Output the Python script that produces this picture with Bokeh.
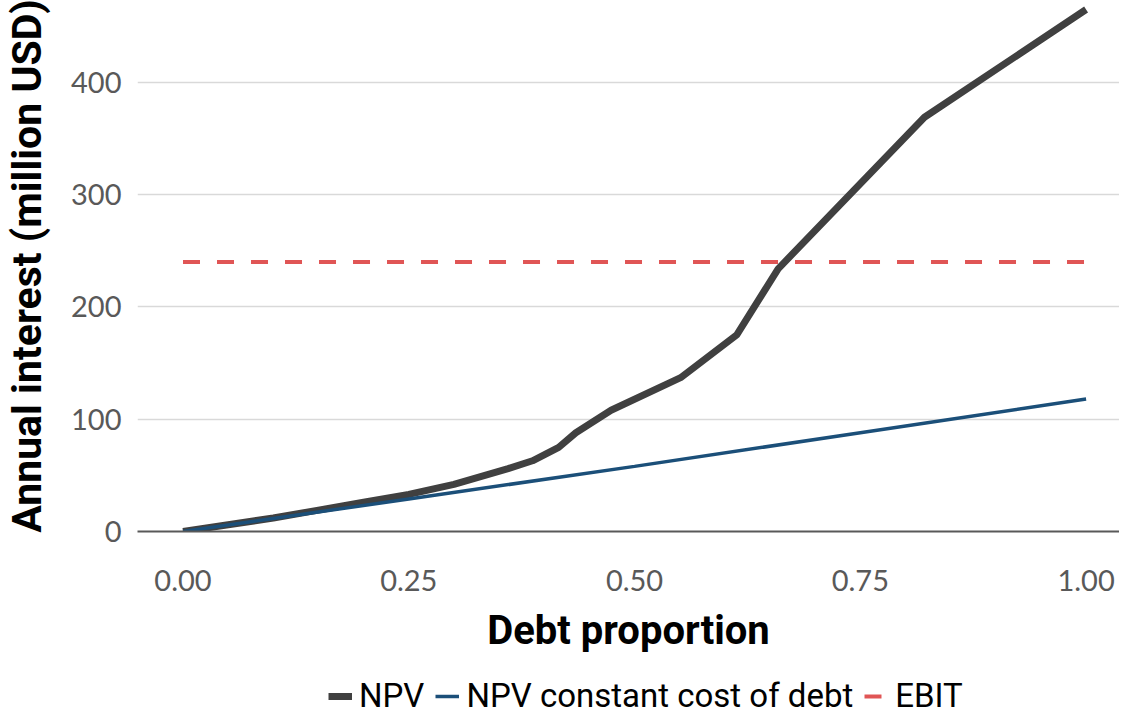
from bokeh.plotting import figure
from bokeh.layouts import column
from bokeh.models import Range1d, FixedTicker, NumeralTickFormatter, Legend, LegendItem
from bokeh.embed import file_html
from bokeh.resources import INLINE

# Data
npv_x = [0.0, 0.05, 0.10, 0.15, 0.20, 0.25, 0.30, 0.36, 0.387, 0.416, 0.435, 0.474, 0.551, 0.613, 0.659, 0.821, 1.0]
npv_y = [0, 6, 12, 19, 26, 33, 42, 56, 63, 75, 88, 108, 137, 175, 234, 369, 465]

const_x = [0.0, 0.25, 0.5, 0.75, 1.0]
const_y = [0, 29, 58, 88, 118]

ebit_x = [0.0, 1.0]
ebit_y = [240, 240]

x_ticks = [0.0, 0.25, 0.5, 0.75, 1.0]
y_ticks = [0, 100, 200, 300, 400]

series_labels = ["NPV", "NPV constant cost of debt", "EBIT"]
colors = ["#404040", "#1b4f79", "#e05555"]
widths = [7, 3.5, 4]
dashes = ["solid", "solid", "17 17"]

W = 1119
p = figure(width=W, height=665, output_backend="svg", toolbar_location=None,
           x_range=Range1d(-0.0504, 1.037), y_range=Range1d(0, 473),
           min_border_left=134, min_border_right=0, min_border_top=0, min_border_bottom=134)

p.outline_line_color = None
p.background_fill_color = "white"
p.border_fill_color = "white"

series = [(npv_x, npv_y), (const_x, const_y), (ebit_x, ebit_y)]
for (sx, sy), c, w, d in zip(series, colors, widths, dashes):
    p.line(sx, sy, line_color=c, line_width=w, line_dash=d)

# axes
p.xaxis.ticker = FixedTicker(ticks=x_ticks)
p.xaxis.formatter = NumeralTickFormatter(format="0.00")
p.yaxis.ticker = FixedTicker(ticks=y_ticks)

for ax in (p.xaxis[0], p.yaxis[0]):
    ax.major_tick_line_color = None
    ax.minor_tick_line_color = None
    ax.major_label_text_font = "Lato"
    ax.major_label_text_font_size = "29px"
    ax.major_label_text_color = "#595959"
    ax.axis_label_text_font = "Roboto"
    ax.axis_label_text_font_style = "bold"
    ax.axis_label_text_color = "black"

p.xaxis.axis_label_text_font_size = "40px"
p.yaxis.axis_label_text_font_size = "41px"
p.xaxis.axis_label = "Debt proportion"
p.yaxis.axis_label = "Annual interest (million USD)"
p.xaxis.axis_line_color = "#595959"
p.xaxis.axis_line_width = 2
p.yaxis.axis_line_color = None
p.xaxis.major_label_standoff = 32
p.yaxis.major_label_standoff = 10
p.xaxis.axis_label_standoff = 13
p.yaxis.axis_label_standoff = 17

p.xgrid.grid_line_color = None
p.ygrid.grid_line_color = "#d9d9d9"
p.ygrid.grid_line_width = 1.5
p.ygrid.ticker = FixedTicker(ticks=[100, 200, 300, 400])

# legend strip below the chart (series drawn off-view so only legend shows)
lg = figure(width=W, height=50, output_backend="svg", toolbar_location=None,
            x_range=Range1d(0, 1), y_range=Range1d(-2000, -1999),
            x_axis_type=None, y_axis_type=None,
            min_border_left=0, min_border_right=0, min_border_top=0, min_border_bottom=0)
lg.outline_line_color = None
lg.grid.visible = False
items = []
for lab, (sx, sy), c, w, d in zip(series_labels, series, colors, widths, dashes):
    r = lg.line(sx, sy, line_color=c, line_width=w, line_dash=d)
    items.append(LegendItem(label=lab, renderers=[r]))

legend = Legend(items=items, orientation="horizontal", location=(191, 0))
legend.label_text_font = "Roboto"
legend.label_text_font_size = "33px"
legend.label_text_color = "black"
legend.glyph_width = 24
legend.label_standoff = 7
legend.spacing = 11
legend.border_line_color = None
legend.background_fill_alpha = 0
legend.margin = 0
legend.padding = 0
lg.add_layout(legend, "center")

layout = column(p, lg, spacing=0)
open("out.html", "w").write(file_html(layout, INLINE))
